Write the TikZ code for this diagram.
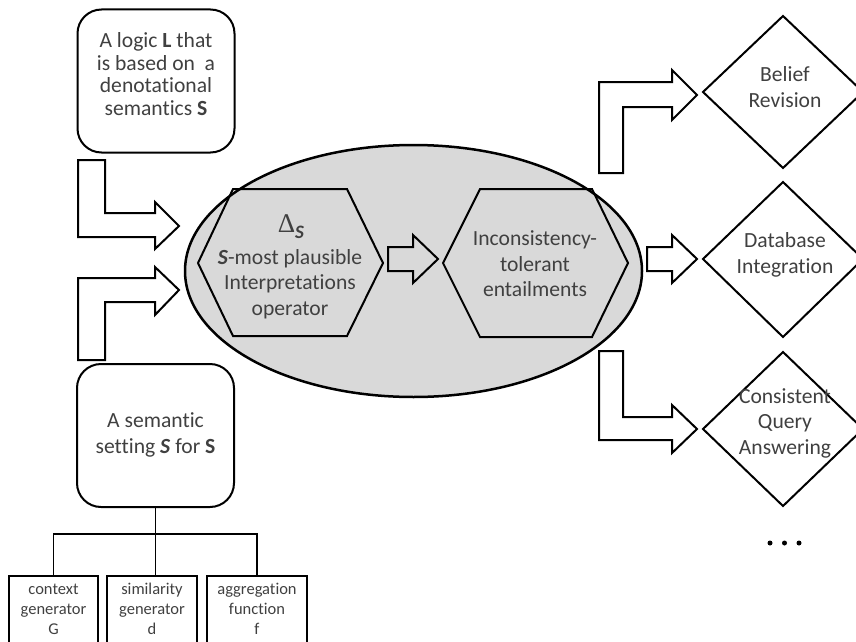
\documentclass[tikz,border=0pt]{standalone}
\usepackage{fontspec}
\setmainfont[Ligatures={NoCommon}]{Carlito}
\newfontfamily\greekserif{Liberation Serif}
\usetikzlibrary{shapes.geometric}
\definecolor{txtgray}{HTML}{404040}
\definecolor{ellgray}{HTML}{D9D9D9}
\begin{document}
\begin{tikzpicture}[x=1pt,y=-1pt,line join=miter,
  outline/.style={draw=black,line width=2pt},
  roundbox/.style={outline,rounded corners=24pt,minimum width=157pt,minimum height=143pt,inner sep=0pt},
  smallbox/.style={draw=black,line width=1.5pt,minimum width=#1,minimum height=80pt,anchor=north,inner sep=0pt},
  txt/.style={text=txtgray,font=\fontsize{21.6}{22.5}\selectfont,align=center,inner sep=0pt},
  txtb/.style={txt,font=\fontsize{21.6}{25.5}\selectfont},
  smalltxt/.style={text=txtgray,font=\fontsize{16.5}{20}\selectfont,align=center,inner sep=0pt},
  blockarrow/.style={outline,fill=white},
  dotnode/.style={circle,fill=black,inner sep=0pt,minimum size=5pt}
]
\useasboundingbox (0,0) rectangle (856,642);
\clip (0,0) rectangle (856,642);
\newcommand{\calS}{\textbf{\textit{S}}}

% central ellipse
\node[draw=black,line width=2.5pt,fill=ellgray,ellipse,minimum width=457pt,minimum height=252pt,inner sep=0pt] (core) at (413.5,271) {};

% left boxes
\node[roundbox] (logic) at (156,81) {};
\node[txt] (logicT) at (156,74) {A logic \textbf{L} that\\is based on\ \ a\\denotational\\semantics \textbf{S}};
\node[roundbox] (setting) at (155.5,435.5) {};
\node[txtb] (settingT) at (155.5,435) {A semantic\\setting \calS{} for \textbf{S}};

% small boxes
\node[smallbox=89pt] (ctx) at (53.5,575) {};
\node[smallbox=90pt] (sim) at (152,575) {};
\node[smallbox=100pt] (agg) at (257,575) {};
\node[smalltxt] (ctxT) at (53.5,609) {context\\generator\\G};
\node[smalltxt] (simT) at (152,609) {similarity\\generator\\d};
\node[smalltxt] (aggT) at (257,609) {aggregation\\function\\f};
\coordinate (junc) at ([yshift=-26pt]setting.south);
\draw[line width=1.5pt] (ctx.north) |- (junc) -| (agg.north);
\draw[line width=1.5pt] (setting.south) -- (setting.south |- sim.north);

% left bent arrows
\draw[blockarrow] (78,160) -- (105,160) -- (105,213) -- (155,213) -- (155,202) -- (179,226)
  -- (155,249) -- (155,237) -- (78,237) -- cycle;
\draw[blockarrow] (78,360) -- (78,278) -- (155,278) -- (155,267) -- (179,290) -- (155,315)
  -- (155,302) -- (105,302) -- (105,360) -- cycle;

% hexagons
\draw[outline] (198,263) -- (233,189) -- (347,189) -- (383,263) -- (347,336) -- (233,336) -- cycle;
\node[inner sep=0pt,text=txtgray] (delta) at (291,227) {{\greekserif\fontsize{27}{30}\selectfont Δ}\raisebox{-6pt}{\fontsize{19}{22}\selectfont\calS}};
\node[txtb] (opT) at (290,284) {\calS-most plausible\\Interpretations\\operator};
\draw[outline] (443,263) -- (480,189) -- (592,189) -- (628,263) -- (592,337) -- (480,337) -- cycle;
\node[txtb] (entT) at (535,264) {Inconsistency-\\tolerant\\entailments};

% middle block arrow
\draw[blockarrow,fill=ellgray] (388,247) -- (413,247) -- (413,235) -- (438,259) -- (413,283) -- (413,271) -- (388,271) -- cycle;

% right arrows
\draw[blockarrow] (599,173) -- (599,82) -- (672,82) -- (672,70) -- (697,95) -- (672,120)
  -- (672,107) -- (623,107) -- (623,173) -- cycle;
\draw[blockarrow] (647,247) -- (672,247) -- (672,235) -- (697,259) -- (672,283) -- (672,271) -- (647,271) -- cycle;
\draw[blockarrow] (599,351) -- (623,351) -- (623,417) -- (672,417) -- (672,405) -- (697,429)
  -- (672,453) -- (672,440) -- (599,440) -- cycle;

% diamonds
\draw[outline] (703,92) -- (783,16) -- (863,92) -- (783,168) -- cycle;
\node[txtb] (beliefT) at (785,87) {Belief\\Revision};
\draw[outline] (703,259) -- (783,182) -- (863,259) -- (783,337) -- cycle;
\node[txtb] (dbT) at (785,255) {Database\\Integration};
\draw[outline] (703,429) -- (783,352) -- (863,429) -- (783,506) -- cycle;
\node[txtb] (cqT) at (785,423) {Consistent\\Query\\Answering};

% dots
\node[dotnode] (dot1) at (770,543) {};
\node[dotnode] (dot2) at (784.5,543) {};
\node[dotnode] (dot3) at (799,543) {};
\end{tikzpicture}
\end{document}
